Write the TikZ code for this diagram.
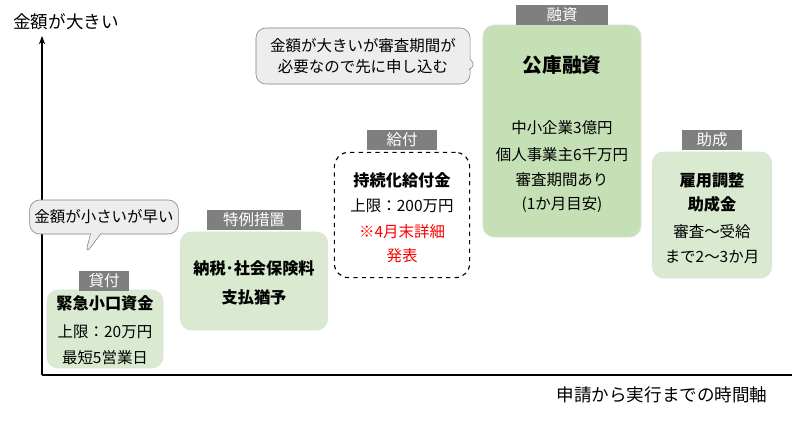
\documentclass[tikz,border=0pt]{standalone}
\usepackage{fontspec}
\setmainfont{Noto Sans CJK JP}
\usetikzlibrary{shapes.callouts,arrows.meta}
\definecolor{boxgreen}{HTML}{D9EAD0}
\definecolor{loangreen}{HTML}{C5E0B4}
\definecolor{tabgray}{HTML}{7F7F7F}
\definecolor{callgray}{HTML}{EDEDED}
\begin{document}
\begin{tikzpicture}[x=0.025cm,y=-0.025cm,
	box/.style = {draw=boxgreen!80!black!40, fill=boxgreen, rounded corners=8pt, line width=0.6pt},
	tab/.style = {fill=tabgray, text=white, font=\fontsize{11}{13}\selectfont, inner sep=0pt, minimum height=0.5cm},
	txt/.style = {font=\fontsize{11}{13}\selectfont, inner sep=0pt},
	bold/.style = {font=\fontsize{11.5}{13}\selectfont\bfseries, inner sep=0pt},
	talk/.style = {rectangle callout, rounded corners=7pt, draw=gray, fill=callgray, font=\fontsize{11}{15}\selectfont, align=center}]
	\useasboundingbox (0,0) rectangle (800,428);
	% Akselit
	\coordinate (o) at (42,375);
	\coordinate (ytop) at (42,36);
	\coordinate (xend) at (792,375);
	\draw[line width=0.8pt, -{Stealth[length=6pt]}] (o) -- (ytop);
	\draw[line width=0.8pt] (o) -- (xend);
	\node[font=\fontsize{12.5}{14}\selectfont] (ylabel) at (66,22) {金額が大きい};
	\node[font=\fontsize{12.5}{14}\selectfont] (xlabel) at (662,395) {申請から実行までの時間軸};
	% Puhekuplat
	\node[talk, minimum width=3.7cm, minimum height=0.85cm, callout absolute pointer={(85,255)}] (small) at (104,217) {金額が小さいが早い};
	\node[talk, minimum width=5.35cm, minimum height=1.4cm, callout absolute pointer={(478,66)}] (large) at (363,56) {金額が大きいが審査期間が\\必要なので先に申し込む};
	% Laatikot
	\node[box, minimum width=2.9cm, minimum height=1.95cm] (loan) at (105,329) {};
	\node[box, minimum width=3.68cm, minimum height=2.45cm] (tax) at (254,281) {};
	\node[draw, dashed, rounded corners=10pt, line width=0.8pt, minimum width=3.38cm, minimum height=3.13cm] (grant) at (402,215) {};
	\node[box, fill=loangreen, minimum width=3.95cm, minimum height=5.3cm] (finance) at (562,131) {};
	\node[box, minimum width=2.98cm, minimum height=3.15cm] (subsidy) at (712,215) {};
	% Otsikot
	\node[tab, minimum width=1.25cm] (tloan) at (104,281) {貸付};
	\node[tab, minimum width=2.35cm] (ttax) at (254,220) {特例措置};
	\node[tab, minimum width=1.75cm] (tgrant) at (402,140) {給付};
	\node[tab, minimum width=2.3cm] (tfinance) at (562,15) {融資};
	\node[tab, minimum width=1.5cm] (tsubsidy) at (712,140) {助成};
	% Tekstit
	\node[bold] (l1) at (105,303) {緊急小口資金};
	\node[txt] (l2) at (105,332) {上限：20万円};
	\node[txt] (l3) at (105,358) {最短5営業日};
	\node[bold] (t1) at (254,268) {納税･社会保険料};
	\node[bold] (t2) at (254,297) {支払猶予};
	\node[bold] (g1) at (402,180) {持続化給付金};
	\node[txt] (g2) at (402,206) {上限：200万円};
	\node[txt, text=red] (g3) at (402,232) {※4月末詳細};
	\node[txt, text=red] (g4) at (402,256) {発表};
	\node[font=\fontsize{14}{16}\selectfont\bfseries, inner sep=0pt] (f1) at (562,65) {公庫融資};
	\node[txt] (f2) at (562,128) {中小企業3億円};
	\node[txt] (f3) at (562,155) {個人事業主6千万円};
	\node[txt] (f4) at (562,180) {審査期間あり};
	\node[txt] (f5) at (562,205) {(1か月目安)};
	\node[bold] (s1) at (712,180) {雇用調整};
	\node[bold] (s2) at (712,204) {助成金};
	\node[txt] (s3) at (712,232) {審査～受給};
	\node[txt] (s4) at (712,257) {まで2～3か月};
\end{tikzpicture}
\end{document}
